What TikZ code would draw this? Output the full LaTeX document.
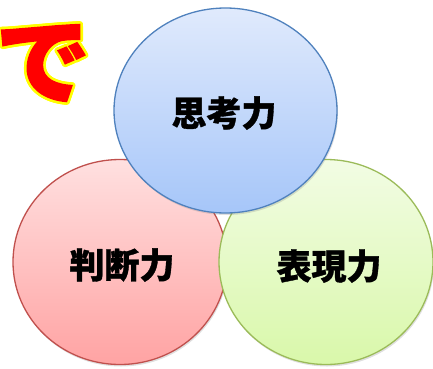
\documentclass[tikz,border=0pt]{standalone}
\usepackage{fontspec}
\newfontfamily\jplabel{Noto Sans CJK JP}[BoldFeatures={FakeBold=1}]
\newfontfamily\jpheavy{Noto Sans CJK JP}[BoldFeatures={FakeBold=1.5}]
\usetikzlibrary{shadows,calc,shapes.geometric}
\definecolor{bluetop}{HTML}{E0EAFC}
\definecolor{bluebot}{HTML}{A6C6F9}
\definecolor{blueline}{HTML}{4F81BD}
\definecolor{redtop}{HTML}{FFE0E0}
\definecolor{redbot}{HTML}{FFA3A3}
\definecolor{redline}{HTML}{C0504D}
\definecolor{greentop}{HTML}{F2FCE4}
\definecolor{greenbot}{HTML}{D9F8AA}
\definecolor{greenline}{HTML}{9BBB59}
\definecolor{deyellow}{HTML}{FFFF00}
\definecolor{dered}{HTML}{FF0000}
\begin{document}
\begin{tikzpicture}[x=1pt,y=1pt,
  bubble/.style={ellipse,draw,line width=1.3pt,inner sep=0pt,
    drop shadow={opacity=0.25,shadow xshift=1pt,shadow yshift=-2pt}},
  label/.style={font=\jplabel\bfseries\fontsize{35}{35}\selectfont,text=black},
  defont/.style={font=\jpheavy\bfseries\fontsize{95}{95}\selectfont}]
\useasboundingbox (0,0) rectangle (433,368);
\clip (0,0) rectangle (433,368);
% "de"
\foreach \a in {0,22.5,...,359}{
  \node[defont,text=deyellow] at ($(43,305)+(\a:2.6)$) {で};
}
\node (de) [defont,text=dered] at (43,305) {で};
% circles
\node (judge) [bubble,draw=redline,top color=redtop,bottom color=redbot,
  minimum width=214pt,minimum height=205pt] at (120,106) {};
\node (express) [bubble,draw=greenline,top color=greentop,bottom color=greenbot,
  minimum width=214pt,minimum height=205pt] at (326,106) {};
\node (think) [bubble,draw=blueline,top color=bluetop,bottom color=bluebot,
  minimum width=223pt,minimum height=205pt] at (225.5,257.5) {};
\node (thinkt) [label] at (224,255) {思考力};
\node (judget) [label] at (122,103) {判断力};
\node (expresst) [label] at (329,102) {表現力};
\end{tikzpicture}
\end{document}
